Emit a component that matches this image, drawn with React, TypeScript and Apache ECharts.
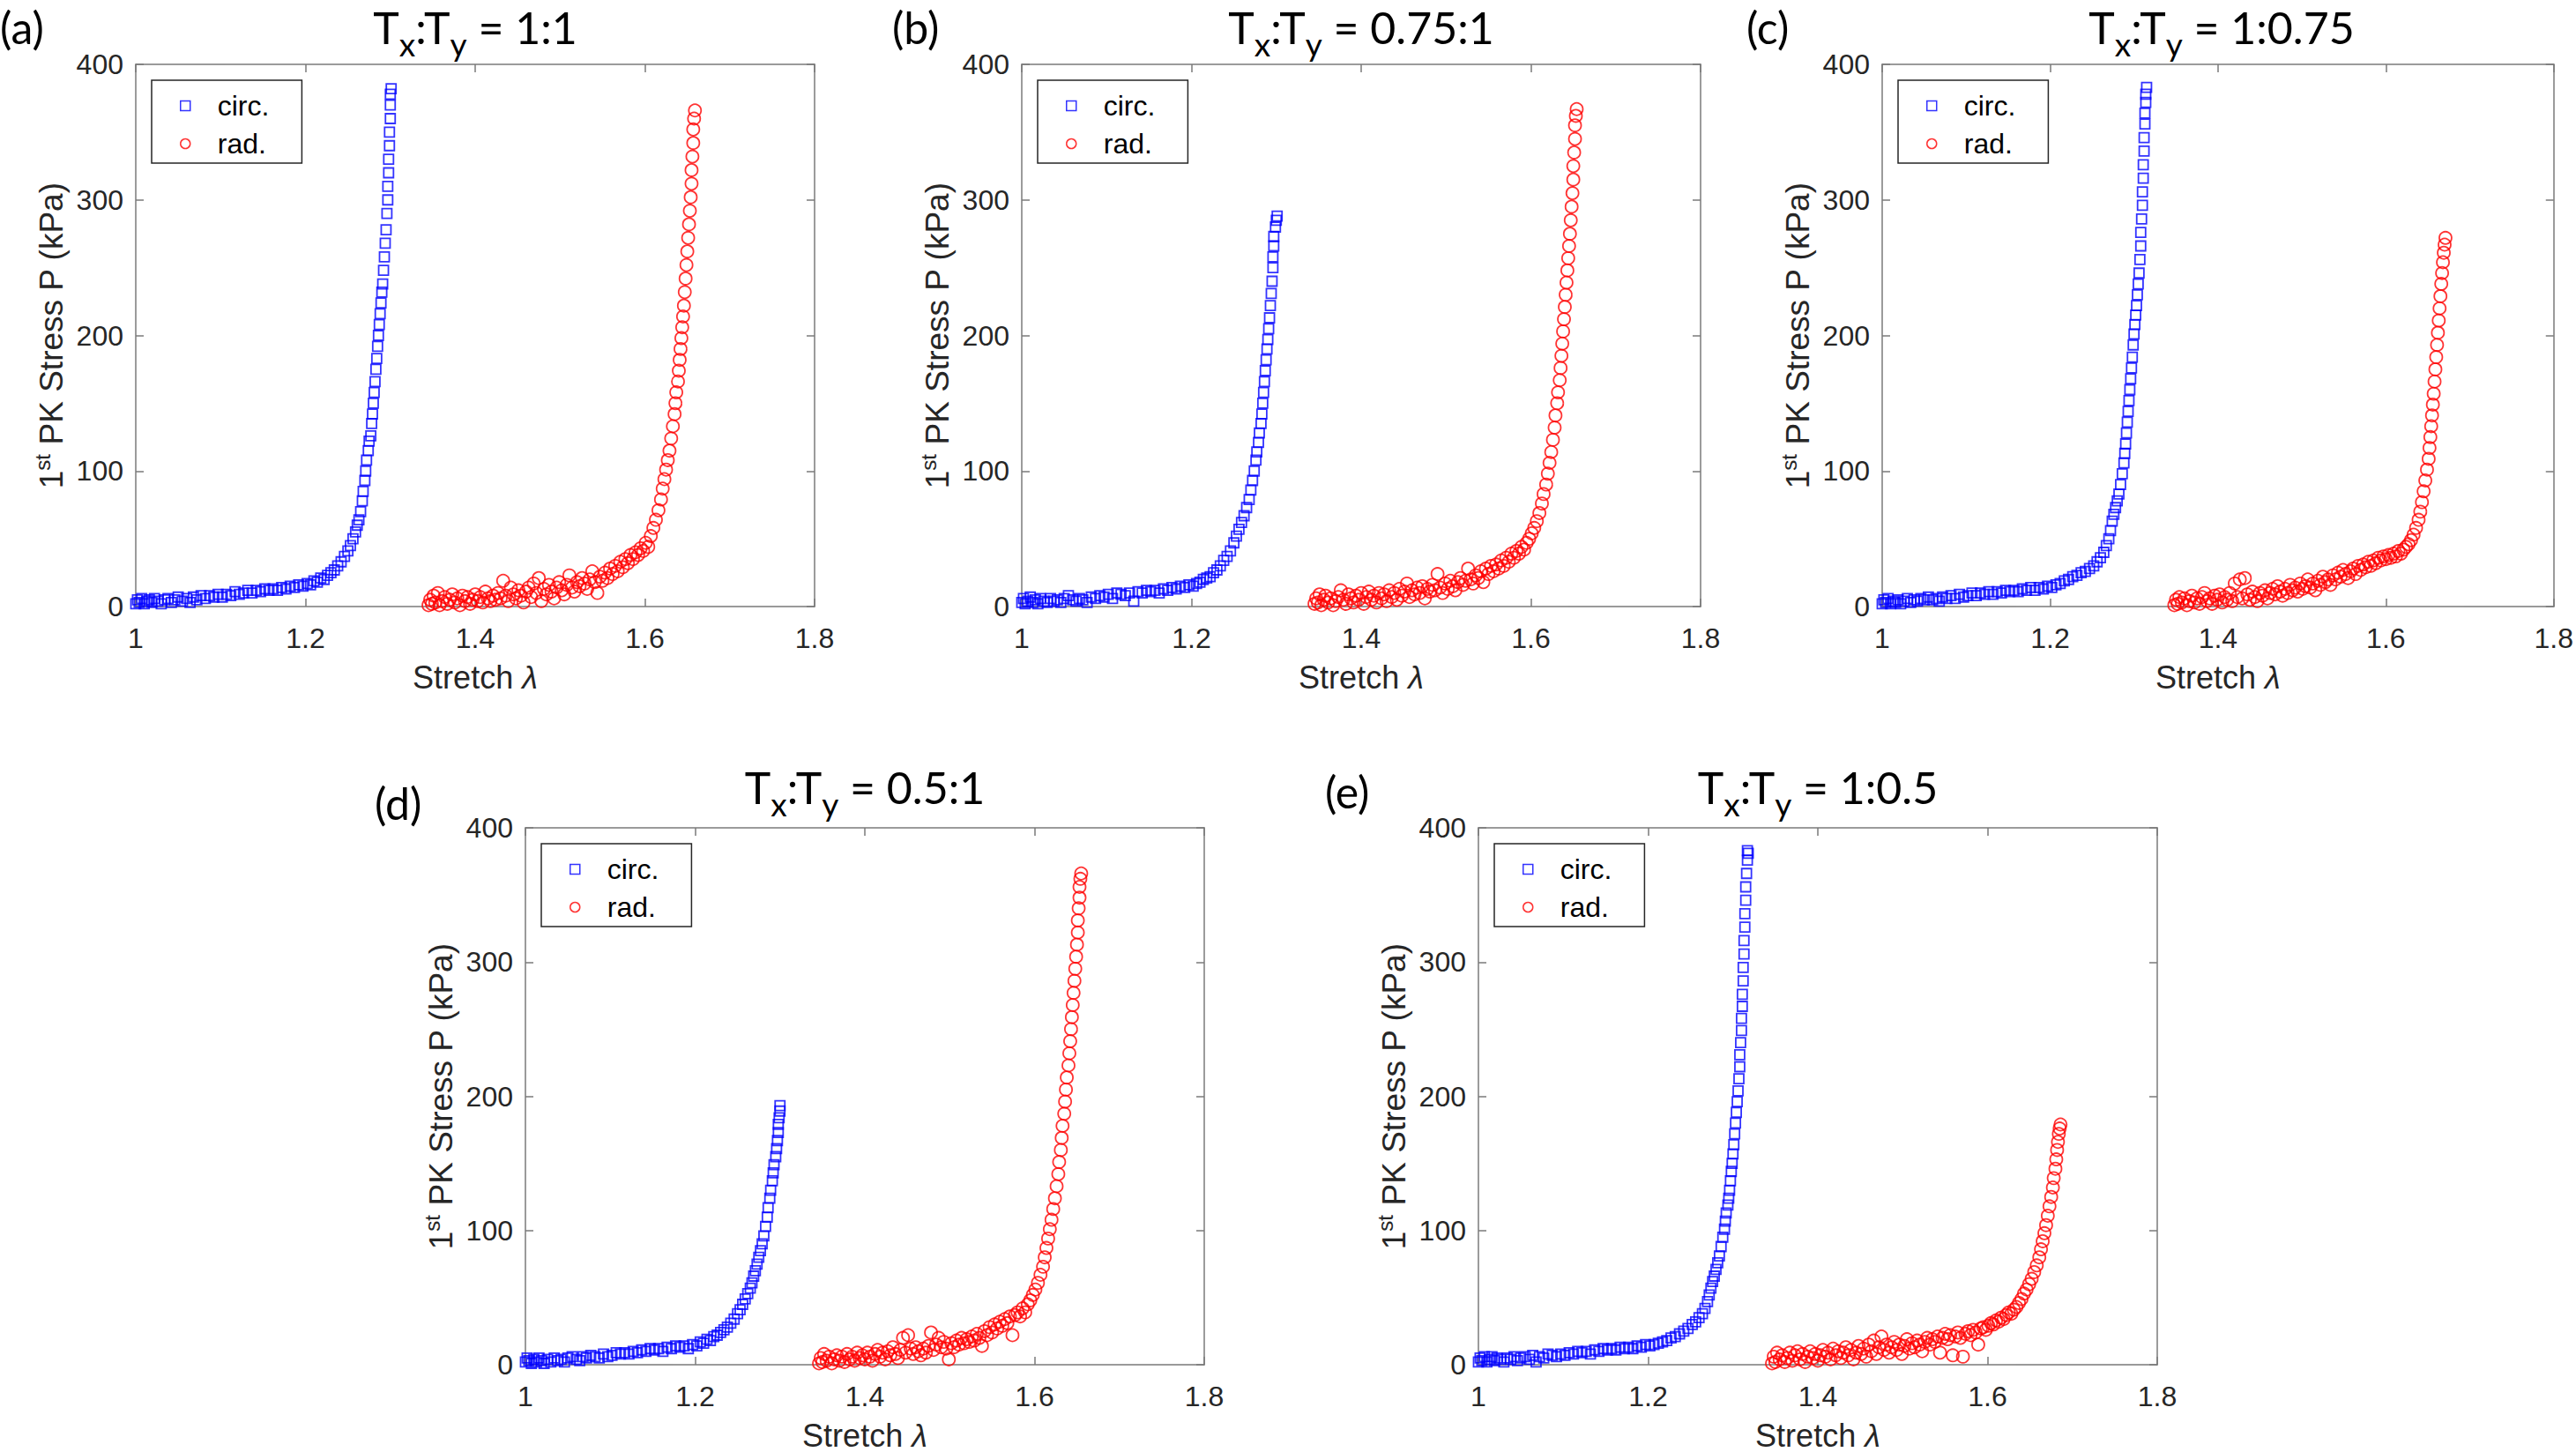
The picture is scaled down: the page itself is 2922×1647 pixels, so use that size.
import React, { useEffect, useRef } from "react";
import * as echarts from "echarts";

// ---- Data ----
const panelLetters = ["(a)", "(b)", "(c)", "(d)", "(e)"];
const ratioLabels = ["1:1", "0.75:1", "1:0.75", "0.5:1", "1:0.5"];
const seriesNames = ["circ.", "rad."];
const xTicks = [1, 1.2, 1.4, 1.6, 1.8];
const yTicks = [0, 100, 200, 300, 400];

const aCirc: number[][] = [[1.000,2],[1.002,5],[1.004,3],[1.007,6],[1.010,2],[1.013,4],[1.016,5],[1.019,3],[1.022,6],[1.026,4],[1.030,2],[1.034,5],[1.038,6],[1.042,3],[1.046,5],[1.050,7],[1.055,4],[1.060,6],[1.064,3],[1.068,7],[1.072,5],[1.077,8],[1.082,6],[1.087,8],[1.092,7],[1.097,9],[1.102,7],[1.107,9],[1.112,8],[1.117,11],[1.122,9],[1.127,10],[1.132,12],[1.137,10],[1.142,12],[1.147,11],[1.152,13],[1.157,12],[1.162,13],[1.167,12],[1.172,14],[1.177,13],[1.182,15],[1.187,14],[1.192,16],[1.197,15],[1.202,17],[1.206,16],[1.210,19],[1.214,18],[1.218,21],[1.222,20],[1.226,23],[1.230,25],[1.234,27],[1.238,30],[1.242,33],[1.246,37],[1.250,41],[1.253,45],[1.256,50],[1.259,55],[1.261,60],[1.263,64],[1.265,70],[1.267,78],[1.268,85],[1.270,93],[1.271,100],[1.272,108],[1.274,115],[1.275,122],[1.277,126],[1.278,135],[1.279,142],[1.280,150],[1.281,158],[1.282,166],[1.283,175],[1.284,183],[1.285,192],[1.286,200],[1.287,208],[1.288,216],[1.289,224],[1.290,232],[1.291,238],[1.292,248],[1.293,258],[1.294,268],[1.295,278],[1.296,290],[1.297,300],[1.297,310],[1.298,320],[1.298,330],[1.299,340],[1.299,350],[1.300,360],[1.300,370],[1.300,378],[1.301,382]];

const aRad: number[][] = [[1.345,1],[1.347,5],[1.349,2],[1.351,8],[1.353,3],[1.356,10],[1.358,1],[1.361,4],[1.364,7],[1.367,2],[1.370,5],[1.373,9],[1.376,3],[1.379,6],[1.382,1],[1.385,8],[1.388,4],[1.391,7],[1.394,2],[1.397,5],[1.400,9],[1.403,4],[1.406,7],[1.409,3],[1.412,11],[1.415,6],[1.418,4],[1.421,8],[1.424,5],[1.427,10],[1.430,6],[1.433,19],[1.436,8],[1.439,4],[1.442,14],[1.445,9],[1.448,6],[1.451,12],[1.454,8],[1.457,3],[1.460,11],[1.463,14],[1.466,7],[1.469,17],[1.472,10],[1.475,21],[1.478,4],[1.481,13],[1.484,9],[1.487,16],[1.490,11],[1.493,6],[1.496,14],[1.499,18],[1.502,12],[1.505,9],[1.508,16],[1.511,23],[1.514,14],[1.517,11],[1.520,18],[1.523,15],[1.526,21],[1.529,17],[1.532,13],[1.535,20],[1.538,26],[1.541,18],[1.544,10],[1.547,22],[1.550,19],[1.553,25],[1.556,21],[1.559,28],[1.562,24],[1.565,30],[1.568,26],[1.571,33],[1.574,29],[1.577,35],[1.580,32],[1.583,38],[1.586,35],[1.589,40],[1.592,38],[1.595,43],[1.598,41],[1.601,47],[1.604,44],[1.607,52],[1.610,58],[1.613,64],[1.616,71],[1.619,79],[1.621,87],[1.623,94],[1.625,101],[1.627,108],[1.629,115],[1.631,124],[1.633,133],[1.635,142],[1.636,150],[1.637,158],[1.639,166],[1.640,174],[1.641,182],[1.642,190],[1.643,198],[1.644,206],[1.645,214],[1.646,222],[1.647,232],[1.648,242],[1.649,252],[1.650,262],[1.651,272],[1.652,282],[1.653,292],[1.654,302],[1.655,312],[1.655,322],[1.656,332],[1.657,342],[1.657,352],[1.658,360],[1.659,366]];

const bCirc: number[][] = [[1.000,3],[1.002,6],[1.004,2],[1.007,4],[1.010,7],[1.013,3],[1.016,5],[1.019,2],[1.022,6],[1.026,4],[1.030,3],[1.034,6],[1.038,4],[1.042,5],[1.046,3],[1.050,6],[1.055,8],[1.060,5],[1.064,4],[1.068,6],[1.072,5],[1.077,3],[1.082,7],[1.087,6],[1.092,8],[1.097,7],[1.102,9],[1.107,6],[1.112,10],[1.117,9],[1.122,8],[1.127,10],[1.132,4],[1.137,11],[1.142,10],[1.147,12],[1.152,11],[1.157,12],[1.162,10],[1.167,13],[1.172,12],[1.177,14],[1.182,13],[1.187,15],[1.192,14],[1.197,16],[1.202,15],[1.206,17],[1.210,18],[1.214,20],[1.218,21],[1.222,22],[1.226,25],[1.230,27],[1.234,30],[1.238,34],[1.242,37],[1.246,41],[1.250,47],[1.253,52],[1.256,57],[1.259,62],[1.262,67],[1.265,73],[1.268,79],[1.270,86],[1.272,93],[1.274,100],[1.276,108],[1.277,114],[1.279,121],[1.280,128],[1.282,135],[1.283,142],[1.284,150],[1.285,158],[1.286,166],[1.287,174],[1.288,182],[1.289,190],[1.290,197],[1.291,205],[1.292,213],[1.293,222],[1.294,231],[1.295,240],[1.296,250],[1.296,258],[1.297,266],[1.297,273],[1.299,280],[1.300,285],[1.301,288]];

const bRad: number[][] = [[1.345,2],[1.347,6],[1.349,3],[1.351,9],[1.353,1],[1.356,5],[1.358,8],[1.361,3],[1.364,6],[1.367,1],[1.370,4],[1.373,7],[1.376,12],[1.379,5],[1.382,2],[1.385,9],[1.388,6],[1.391,3],[1.394,8],[1.397,5],[1.400,10],[1.403,2],[1.406,7],[1.409,11],[1.412,5],[1.415,8],[1.418,3],[1.421,10],[1.424,6],[1.427,9],[1.430,4],[1.433,12],[1.436,7],[1.439,10],[1.442,5],[1.445,13],[1.448,8],[1.451,11],[1.454,17],[1.457,7],[1.460,12],[1.463,9],[1.466,14],[1.469,10],[1.472,15],[1.475,6],[1.478,13],[1.481,11],[1.484,16],[1.487,12],[1.490,24],[1.493,14],[1.496,10],[1.499,17],[1.502,13],[1.505,19],[1.508,15],[1.511,12],[1.514,18],[1.517,21],[1.520,16],[1.523,19],[1.526,28],[1.529,20],[1.532,17],[1.535,23],[1.538,21],[1.541,26],[1.544,18],[1.547,28],[1.550,24],[1.553,30],[1.556,26],[1.559,31],[1.562,28],[1.565,34],[1.568,30],[1.571,36],[1.574,33],[1.577,39],[1.580,36],[1.583,41],[1.586,39],[1.589,44],[1.592,42],[1.595,47],[1.598,50],[1.601,54],[1.604,58],[1.607,63],[1.610,69],[1.613,76],[1.615,83],[1.618,90],[1.620,98],[1.622,106],[1.624,114],[1.626,123],[1.628,132],[1.629,141],[1.631,150],[1.632,158],[1.634,167],[1.635,176],[1.636,185],[1.637,194],[1.638,203],[1.639,212],[1.640,221],[1.641,230],[1.642,239],[1.643,248],[1.644,257],[1.645,266],[1.646,275],[1.647,285],[1.648,295],[1.649,305],[1.650,315],[1.650,325],[1.651,335],[1.652,345],[1.652,355],[1.653,362],[1.654,367]];

const cCirc: number[][] = [[1.000,2],[1.002,5],[1.004,3],[1.007,6],[1.010,2],[1.013,4],[1.016,3],[1.019,5],[1.022,2],[1.026,4],[1.030,6],[1.034,3],[1.038,5],[1.042,4],[1.046,6],[1.050,5],[1.055,7],[1.060,5],[1.064,6],[1.068,4],[1.072,7],[1.077,6],[1.082,8],[1.087,6],[1.092,9],[1.097,7],[1.102,8],[1.107,10],[1.112,8],[1.117,10],[1.122,9],[1.127,11],[1.132,9],[1.137,11],[1.142,10],[1.147,12],[1.152,11],[1.157,12],[1.162,11],[1.167,13],[1.172,12],[1.177,14],[1.182,12],[1.187,14],[1.192,13],[1.197,15],[1.202,14],[1.207,16],[1.212,17],[1.217,19],[1.222,20],[1.227,22],[1.232,23],[1.237,25],[1.242,26],[1.247,28],[1.252,30],[1.256,33],[1.260,36],[1.264,40],[1.267,45],[1.270,50],[1.272,56],[1.274,63],[1.276,68],[1.278,73],[1.280,78],[1.282,83],[1.284,90],[1.286,98],[1.288,106],[1.289,113],[1.290,120],[1.291,128],[1.292,136],[1.293,144],[1.294,152],[1.295,160],[1.296,168],[1.297,176],[1.298,184],[1.299,193],[1.300,201],[1.301,208],[1.302,215],[1.303,222],[1.304,230],[1.305,238],[1.306,246],[1.307,256],[1.308,266],[1.308,276],[1.309,286],[1.310,296],[1.310,306],[1.311,316],[1.311,326],[1.312,336],[1.312,346],[1.313,356],[1.313,364],[1.314,372],[1.314,378],[1.315,383]];

const cRad: number[][] = [[1.348,1],[1.350,5],[1.352,2],[1.354,7],[1.357,3],[1.360,6],[1.363,1],[1.366,4],[1.369,8],[1.372,3],[1.375,6],[1.378,2],[1.381,7],[1.384,10],[1.387,4],[1.390,6],[1.393,2],[1.396,8],[1.399,5],[1.402,9],[1.405,3],[1.408,7],[1.411,5],[1.414,10],[1.417,4],[1.420,17],[1.423,7],[1.426,20],[1.429,6],[1.432,21],[1.435,9],[1.438,5],[1.441,11],[1.444,7],[1.447,4],[1.450,10],[1.453,8],[1.456,12],[1.459,6],[1.462,10],[1.465,13],[1.468,9],[1.471,15],[1.474,11],[1.477,8],[1.480,13],[1.483,10],[1.486,16],[1.489,12],[1.492,14],[1.495,11],[1.498,17],[1.501,13],[1.504,15],[1.507,20],[1.510,14],[1.513,17],[1.516,12],[1.519,19],[1.522,16],[1.525,22],[1.528,18],[1.531,20],[1.534,16],[1.537,23],[1.540,20],[1.543,25],[1.546,22],[1.549,27],[1.552,24],[1.555,21],[1.558,26],[1.561,28],[1.564,24],[1.567,30],[1.570,27],[1.573,31],[1.576,29],[1.579,33],[1.582,30],[1.585,34],[1.588,32],[1.591,36],[1.594,34],[1.597,37],[1.600,35],[1.603,38],[1.606,36],[1.609,39],[1.612,37],[1.615,41],[1.618,39],[1.621,42],[1.624,44],[1.627,46],[1.630,49],[1.633,53],[1.636,58],[1.639,64],[1.641,70],[1.643,77],[1.645,85],[1.647,93],[1.649,101],[1.651,109],[1.652,117],[1.653,125],[1.654,133],[1.655,141],[1.656,149],[1.657,157],[1.658,166],[1.659,175],[1.660,184],[1.661,193],[1.662,202],[1.663,211],[1.664,220],[1.665,229],[1.666,238],[1.667,246],[1.668,254],[1.669,261],[1.670,267],[1.671,272]];

const dCirc: number[][] = [[1.000,2],[1.002,5],[1.004,3],[1.007,1],[1.010,4],[1.013,2],[1.016,5],[1.019,3],[1.022,1],[1.026,4],[1.030,2],[1.034,5],[1.038,3],[1.042,4],[1.046,2],[1.050,5],[1.055,6],[1.060,4],[1.064,3],[1.068,6],[1.072,5],[1.077,7],[1.082,6],[1.087,5],[1.092,8],[1.097,6],[1.102,7],[1.107,9],[1.112,8],[1.117,9],[1.122,8],[1.127,10],[1.132,9],[1.137,11],[1.142,10],[1.147,12],[1.152,11],[1.157,12],[1.162,10],[1.167,13],[1.172,12],[1.177,14],[1.182,13],[1.187,14],[1.192,12],[1.197,15],[1.202,14],[1.206,17],[1.210,16],[1.214,19],[1.218,18],[1.222,21],[1.226,22],[1.230,24],[1.234,26],[1.238,28],[1.242,31],[1.246,34],[1.250,38],[1.253,41],[1.256,45],[1.259,49],[1.262,53],[1.265,57],[1.267,61],[1.269,66],[1.271,70],[1.273,75],[1.275,80],[1.277,85],[1.279,90],[1.281,96],[1.283,103],[1.285,110],[1.286,117],[1.288,124],[1.289,130],[1.291,137],[1.292,143],[1.293,149],[1.295,155],[1.296,161],[1.297,167],[1.298,173],[1.298,179],[1.299,184],[1.300,189],[1.300,193]];

const dRad: number[][] = [[1.346,1],[1.348,5],[1.350,2],[1.352,8],[1.355,3],[1.358,6],[1.361,1],[1.364,4],[1.367,7],[1.370,3],[1.373,6],[1.376,2],[1.379,8],[1.382,4],[1.385,6],[1.388,3],[1.391,9],[1.394,5],[1.397,7],[1.400,4],[1.403,9],[1.406,6],[1.409,3],[1.412,8],[1.415,11],[1.418,6],[1.421,9],[1.424,4],[1.427,10],[1.430,7],[1.433,13],[1.436,8],[1.439,5],[1.442,11],[1.445,20],[1.448,9],[1.451,22],[1.454,12],[1.457,8],[1.460,13],[1.463,10],[1.466,7],[1.469,12],[1.472,9],[1.475,14],[1.478,24],[1.481,11],[1.484,15],[1.487,20],[1.490,13],[1.493,17],[1.496,12],[1.499,4],[1.502,16],[1.505,13],[1.508,18],[1.511,15],[1.514,20],[1.517,16],[1.520,19],[1.523,17],[1.526,21],[1.529,18],[1.532,23],[1.535,20],[1.538,14],[1.541,25],[1.544,22],[1.547,28],[1.550,24],[1.553,30],[1.556,27],[1.559,32],[1.562,29],[1.565,34],[1.568,31],[1.571,36],[1.574,22],[1.577,37],[1.580,39],[1.583,36],[1.586,42],[1.589,39],[1.592,45],[1.595,48],[1.598,52],[1.601,56],[1.604,61],[1.607,67],[1.610,73],[1.612,80],[1.614,87],[1.616,94],[1.618,101],[1.620,108],[1.622,116],[1.624,124],[1.626,133],[1.628,142],[1.629,151],[1.631,160],[1.632,169],[1.633,178],[1.635,187],[1.636,196],[1.637,205],[1.638,214],[1.640,223],[1.641,232],[1.642,241],[1.643,250],[1.644,259],[1.645,268],[1.646,277],[1.647,286],[1.648,295],[1.649,304],[1.650,313],[1.651,322],[1.651,331],[1.652,340],[1.653,348],[1.653,356],[1.654,362],[1.655,366]];

const eCirc: number[][] = [[1.000,2],[1.002,5],[1.004,3],[1.007,6],[1.010,2],[1.013,4],[1.016,6],[1.019,3],[1.022,5],[1.026,4],[1.030,2],[1.034,5],[1.038,4],[1.042,6],[1.046,3],[1.050,5],[1.055,6],[1.060,4],[1.064,7],[1.068,2],[1.072,6],[1.077,5],[1.082,8],[1.087,7],[1.092,6],[1.097,8],[1.102,7],[1.107,9],[1.112,8],[1.117,10],[1.122,9],[1.127,10],[1.132,8],[1.137,11],[1.142,10],[1.147,12],[1.152,11],[1.157,12],[1.162,11],[1.167,13],[1.172,12],[1.177,13],[1.182,12],[1.187,14],[1.192,13],[1.197,15],[1.202,14],[1.207,15],[1.212,16],[1.217,17],[1.222,18],[1.227,20],[1.232,21],[1.237,23],[1.242,25],[1.247,27],[1.252,30],[1.256,32],[1.260,35],[1.264,38],[1.267,42],[1.270,47],[1.272,52],[1.274,57],[1.276,62],[1.278,66],[1.280,71],[1.282,76],[1.284,81],[1.286,88],[1.288,95],[1.290,101],[1.291,107],[1.292,113],[1.294,119],[1.295,124],[1.296,130],[1.297,137],[1.298,144],[1.299,150],[1.300,157],[1.301,164],[1.302,172],[1.303,180],[1.304,188],[1.305,196],[1.306,204],[1.307,213],[1.308,222],[1.308,231],[1.309,240],[1.310,249],[1.310,258],[1.311,267],[1.311,276],[1.312,286],[1.312,296],[1.313,306],[1.313,316],[1.314,326],[1.314,336],[1.315,346],[1.315,356],[1.316,366],[1.317,376],[1.317,383],[1.318,381]];

const eRad: number[][] = [[1.346,1],[1.348,6],[1.350,2],[1.352,9],[1.355,4],[1.358,7],[1.361,2],[1.364,5],[1.367,9],[1.370,3],[1.373,7],[1.376,10],[1.379,4],[1.382,8],[1.385,2],[1.388,6],[1.391,10],[1.394,5],[1.397,8],[1.400,3],[1.403,7],[1.406,11],[1.409,6],[1.412,9],[1.415,4],[1.418,12],[1.421,7],[1.424,10],[1.427,5],[1.430,9],[1.433,13],[1.436,7],[1.439,11],[1.442,4],[1.445,9],[1.448,14],[1.451,8],[1.454,12],[1.457,6],[1.460,15],[1.463,10],[1.466,18],[1.469,8],[1.472,13],[1.475,21],[1.478,11],[1.481,15],[1.484,9],[1.487,13],[1.490,17],[1.493,11],[1.496,15],[1.499,8],[1.502,14],[1.505,19],[1.508,12],[1.511,16],[1.514,13],[1.517,18],[1.520,15],[1.523,10],[1.526,17],[1.529,20],[1.532,15],[1.535,19],[1.538,17],[1.541,21],[1.544,9],[1.547,20],[1.550,23],[1.553,19],[1.556,22],[1.559,7],[1.562,21],[1.565,24],[1.568,20],[1.571,6],[1.574,23],[1.577,25],[1.580,22],[1.583,26],[1.586,24],[1.589,15],[1.592,27],[1.595,28],[1.598,26],[1.601,29],[1.604,31],[1.607,30],[1.610,33],[1.613,32],[1.616,35],[1.619,34],[1.622,37],[1.625,39],[1.628,38],[1.631,41],[1.634,43],[1.637,46],[1.640,49],[1.643,53],[1.646,56],[1.649,60],[1.652,64],[1.655,69],[1.658,74],[1.661,80],[1.663,86],[1.665,92],[1.667,98],[1.669,104],[1.671,111],[1.673,118],[1.675,125],[1.677,132],[1.678,139],[1.680,146],[1.681,153],[1.682,160],[1.683,166],[1.684,172],[1.685,176],[1.686,179]];

const circData = [aCirc, bCirc, cCirc, dCirc, eCirc];
const radData = [aRad, bRad, cRad, dRad, eRad];

// ---- Layout / style ----
const GRIDS = [
  { left: 154, top: 73, width: 770, height: 615 },
  { left: 1159, top: 73, width: 770, height: 615 },
  { left: 2135, top: 73, width: 770, height: 615 },
  { left: 596, top: 939, width: 770, height: 616 },
  { left: 1677, top: 939, width: 770, height: 616 },
];
const LETTER_POS = [
  [0, 31], [1012, 31], [1981, 31], [425, 911], [1503, 898],
];
const TITLE_Y = [31, 31, 31, 893, 893];
const AXIS_COLOR = "#7a7a7a";
const TEXT_COLOR = "#262626";
const SANS = "Liberation Sans";
const TITLE_FONT = "Lato";
const TITLE_SIZE = 50;
const SUB_SIZE = 37;
const SUB_DROP = 18;

let measureCtx: CanvasRenderingContext2D | null = null;
function textWidth(text: string, size: number): number {
  if (!measureCtx) measureCtx = document.createElement("canvas").getContext("2d");
  if (!measureCtx) return text.length * size * 0.55;
  measureCtx.font = `${size}px ${TITLE_FONT}`;
  return measureCtx.measureText(text).width;
}

function titleGroup(cx: number, cy: number, ratio: string) {
  const pieces = [
    { t: "T", s: TITLE_SIZE, dy: 0 },
    { t: "x", s: SUB_SIZE, dy: SUB_DROP },
    { t: ":T", s: TITLE_SIZE, dy: 0 },
    { t: "y", s: SUB_SIZE, dy: SUB_DROP },
    { t: ` = ${ratio}`, s: TITLE_SIZE, dy: 0 },
  ];
  const widths = pieces.map((p) => textWidth(p.t, p.s));
  const total = widths.reduce((a, b) => a + b, 0);
  let x = 0;
  const children = pieces.map((p, k) => {
    const el = {
      type: "text", x, y: p.dy,
      style: {
        text: p.t, align: "left", verticalAlign: "middle", fill: "#000",
        fontFamily: TITLE_FONT, fontSize: p.s, lineHeight: p.s,
      },
    };
    x += widths[k];
    return el;
  });
  return { type: "group", x: cx - total / 2, y: cy, children };
}

function buildOption() {
  const xAxis: any[] = [];
  const yAxis: any[] = [];
  const series: any[] = [];
  const legend: any[] = [];
  const graphic: any[] = [];
  const tickStyle = { inside: true, length: 9, lineStyle: { color: AXIS_COLOR, width: 1.5 } };
  const lineStyle = { show: true, onZero: false, lineStyle: { color: AXIS_COLOR, width: 1.5 } };

  GRIDS.forEach((g, i) => {
    xAxis.push({
      type: "value", gridIndex: i, position: "bottom",
      min: xTicks[0], max: xTicks[xTicks.length - 1], interval: 0.2,
      axisLine: lineStyle, axisTick: tickStyle, splitLine: { show: false },
      axisLabel: { color: TEXT_COLOR, fontSize: 32, fontFamily: SANS, margin: 20 },
      name: "{n|Stretch }{i|λ}", nameLocation: "middle", nameGap: 60,
      nameTextStyle: {
        color: TEXT_COLOR, fontFamily: SANS,
        rich: {
          n: { fontSize: 36, fontFamily: SANS, color: TEXT_COLOR, lineHeight: 40 },
          i: { fontSize: 36, fontFamily: SANS, fontStyle: "italic", color: TEXT_COLOR, lineHeight: 40 },
        },
      },
    });
    xAxis.push({
      type: "value", gridIndex: i, position: "top",
      min: xTicks[0], max: xTicks[xTicks.length - 1], interval: 0.2,
      axisLine: lineStyle, axisTick: tickStyle, splitLine: { show: false },
      axisLabel: { show: false },
    });
    yAxis.push({
      type: "value", gridIndex: i, position: "left",
      min: yTicks[0], max: yTicks[yTicks.length - 1], interval: 100,
      axisLine: lineStyle, axisTick: tickStyle, splitLine: { show: false },
      axisLabel: { color: TEXT_COLOR, fontSize: 32, fontFamily: SANS, margin: 14 },
      name: "{n|1}{s|st}{n| PK Stress P (kPa)}", nameLocation: "middle", nameGap: 74, nameRotate: 90,
      nameTextStyle: {
        color: TEXT_COLOR, fontFamily: SANS,
        rich: {
          n: { fontSize: 37, fontFamily: SANS, color: TEXT_COLOR, lineHeight: 44 },
          s: { fontSize: 24, fontFamily: SANS, color: TEXT_COLOR, lineHeight: 24, verticalAlign: "top" },
        },
      },
    });
    yAxis.push({
      type: "value", gridIndex: i, position: "right",
      min: yTicks[0], max: yTicks[yTicks.length - 1], interval: 100,
      axisLine: lineStyle, axisTick: tickStyle, splitLine: { show: false },
      axisLabel: { show: false },
    });
    series.push({
      type: "scatter", name: seriesNames[0], xAxisIndex: 2 * i, yAxisIndex: 2 * i,
      data: circData[i], symbol: "rect", symbolSize: 11, silent: true,
      itemStyle: { color: "transparent", borderColor: "#0000ff", borderWidth: 1.8 },
      emphasis: { disabled: true },
    });
    series.push({
      type: "scatter", name: seriesNames[1], xAxisIndex: 2 * i, yAxisIndex: 2 * i,
      data: radData[i], symbol: "circle", symbolSize: 14, silent: true,
      itemStyle: { color: "transparent", borderColor: "#ff0000", borderWidth: 1.8 },
      emphasis: { disabled: true },
    });
    legend.push({
      left: g.left + 18, top: g.top + 18, orient: "vertical",
      selectedMode: false, backgroundColor: "#ffffff",
      borderColor: "#262626", borderWidth: 1.5, borderRadius: 0,
      padding: [9, 37, 2, 32], itemGap: 3, itemWidth: 11, itemHeight: 11,
      textStyle: { fontSize: 32, fontFamily: SANS, color: "#000000", lineHeight: 40, padding: [0, 0, 0, 26] },
      data: [
        { name: seriesNames[0], icon: "rect", itemStyle: { color: "transparent", borderColor: "#0000ff", borderWidth: 1.5 } },
        { name: seriesNames[1], icon: "circle", itemStyle: { color: "transparent", borderColor: "#ff0000", borderWidth: 1.5 } },
      ],
    });
    graphic.push(titleGroup(g.left + g.width / 2, TITLE_Y[i], ratioLabels[i]));
    graphic.push({
      type: "text", x: LETTER_POS[i][0], y: LETTER_POS[i][1],
      style: {
        text: panelLetters[i], align: "left", verticalAlign: "middle",
        fill: "#000", fontFamily: TITLE_FONT, fontSize: 50, lineHeight: 50,
      },
    });
  });

  return {
    animation: false,
    backgroundColor: "#ffffff",
    grid: GRIDS.map((g) => ({ ...g, containLabel: false })),
    xAxis, yAxis, series, legend, graphic,
  };
}

export default function App() {
  const ref = useRef<HTMLDivElement>(null);
  useEffect(() => {
    if (!ref.current) return;
    const chart = echarts.init(ref.current, undefined, { renderer: "svg" });
    chart.setOption(buildOption() as any);
    return () => chart.dispose();
  }, []);
  return (
    <div
      ref={ref}
      style={{ position: "fixed", left: 0, top: 0, width: 2922, height: 1647, background: "#fff" }}
    />
  );
}
